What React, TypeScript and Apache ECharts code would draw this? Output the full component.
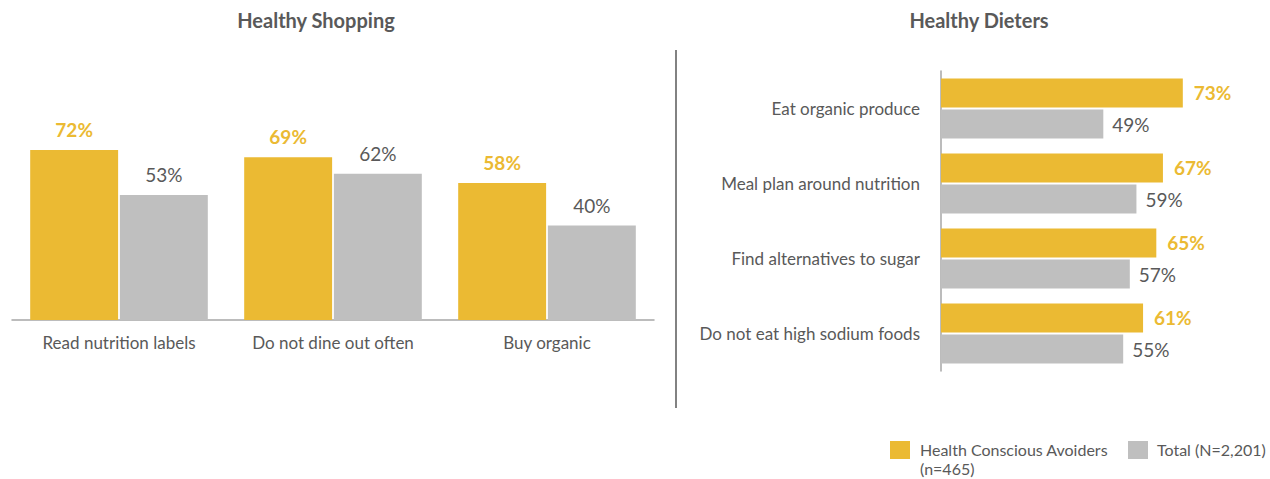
import React, { useEffect, useRef } from "react";
import * as echarts from "echarts";

const seriesNames = ["Health Conscious Avoiders (n=465)", "Total (N=2,201)"];
const shoppingCategories = ["Read nutrition labels", "Do not dine out often", "Buy organic"];
const shoppingAvoiders = [72, 69, 58];
const shoppingTotal = [53, 62, 40];
const dieterCategories = [
  "Eat organic produce",
  "Meal plan around nutrition",
  "Find alternatives to sugar",
  "Do not eat high sodium foods",
];
const dieterAvoiders = [73, 67, 65, 61];
const dieterTotal = [49, 59, 57, 55];
const titles = ["Healthy Shopping", "Healthy Dieters"];

const YELLOW = "#EBBA33";
const GRAY = "#BFBFBF";
const TEXT = "#595959";
const FONT = "Lato, 'Open Sans', sans-serif";

export default function App() {
  const ref = useRef<HTMLDivElement>(null);
  useEffect(() => {
    document.body.style.margin = "0";
    if (!ref.current) return;
    const chart = echarts.init(ref.current, undefined, { renderer: "svg" });
    const pct = (p: any) => p.value + "%";
    chart.setOption({
      animation: false,
      textStyle: { fontFamily: FONT },
      grid: [
        { left: 12, right: 616, top: 84, bottom: 159 },
        { left: 941, right: 64, top: 71, bottom: 108 },
      ],
      xAxis: [
        {
          gridIndex: 0,
          type: "category",
          data: shoppingCategories,
          axisLine: { lineStyle: { color: "#A6A6A6", width: 1.5 } },
          axisTick: { show: false },
          axisLabel: { color: TEXT, fontSize: 17, margin: 14, fontFamily: FONT },
        },
        {
          gridIndex: 1,
          type: "value",
          min: 0,
          max: 80,
          show: false,
          splitLine: { show: false },
        },
      ],
      yAxis: [
        {
          gridIndex: 0,
          type: "value",
          min: 0,
          max: 100,
          show: false,
          splitLine: { show: false },
        },
        {
          gridIndex: 1,
          type: "category",
          inverse: true,
          data: dieterCategories,
          axisLine: { lineStyle: { color: "#A6A6A6", width: 1.5 } },
          axisTick: { show: false },
          axisLabel: { color: TEXT, fontSize: 17, margin: 21, fontFamily: FONT },
        },
      ],
      series: [
        {
          name: seriesNames[0],
          type: "bar",
          xAxisIndex: 0,
          yAxisIndex: 0,
          data: shoppingAvoiders,
          itemStyle: { color: YELLOW },
          barGap: "2%",
          barCategoryGap: "17%",
          label: {
            show: true,
            position: "top",
            distance: 11,
            formatter: pct,
            color: YELLOW,
            fontWeight: "bold",
            fontSize: 19,
            fontFamily: FONT,
          },
        },
        {
          name: seriesNames[1],
          type: "bar",
          xAxisIndex: 0,
          yAxisIndex: 0,
          data: shoppingTotal,
          itemStyle: { color: GRAY },
          barGap: "2%",
          barCategoryGap: "17%",
          label: {
            show: true,
            position: "top",
            distance: 11,
            formatter: pct,
            color: TEXT,
            fontSize: 19,
            fontFamily: FONT,
          },
        },
        {
          name: seriesNames[0],
          type: "bar",
          xAxisIndex: 1,
          yAxisIndex: 1,
          data: dieterAvoiders,
          itemStyle: { color: YELLOW },
          barGap: "7%",
          barCategoryGap: "20%",
          label: {
            show: true,
            position: "right",
            distance: 11,
            formatter: pct,
            color: YELLOW,
            fontWeight: "bold",
            fontSize: 19,
            fontFamily: FONT,
          },
        },
        {
          name: seriesNames[1],
          type: "bar",
          xAxisIndex: 1,
          yAxisIndex: 1,
          data: dieterTotal,
          itemStyle: { color: GRAY },
          barGap: "7%",
          barCategoryGap: "20%",
          label: {
            show: true,
            position: "right",
            distance: 9,
            formatter: pct,
            color: TEXT,
            fontSize: 19,
            fontFamily: FONT,
          },
        },
      ],
      graphic: [
        {
          type: "text",
          x: 316,
          y: 20,
          style: {
            text: titles[0],
            fill: TEXT,
            font: `bold 20px ${FONT}`,
            textAlign: "center",
            textVerticalAlign: "middle",
          },
        },
        {
          type: "text",
          x: 979,
          y: 20,
          style: {
            text: titles[1],
            fill: TEXT,
            font: `bold 20px ${FONT}`,
            textAlign: "center",
            textVerticalAlign: "middle",
          },
        },
        {
          type: "line",
          shape: { x1: 676, y1: 50, x2: 676, y2: 408 },
          style: { stroke: "#595959", lineWidth: 1.5 },
        },
        {
          type: "rect",
          shape: { x: 890, y: 441, width: 20, height: 18 },
          style: { fill: YELLOW },
        },
        {
          type: "text",
          x: 920,
          y: 440,
          style: {
            text: "Health Conscious Avoiders\n(n=465)",
            fill: TEXT,
            font: `16px ${FONT}`,
            lineHeight: 19,
            textVerticalAlign: "top",
          },
        },
        {
          type: "rect",
          shape: { x: 1128, y: 441, width: 20, height: 18 },
          style: { fill: GRAY },
        },
        {
          type: "text",
          x: 1157,
          y: 440,
          style: {
            text: "Total (N=2,201)",
            fill: TEXT,
            font: `16px ${FONT}`,
            lineHeight: 19,
            textVerticalAlign: "top",
          },
        },
      ],
    });
    return () => chart.dispose();
  }, []);
  return <div ref={ref} style={{ width: 1270, height: 479 }} />;
}
